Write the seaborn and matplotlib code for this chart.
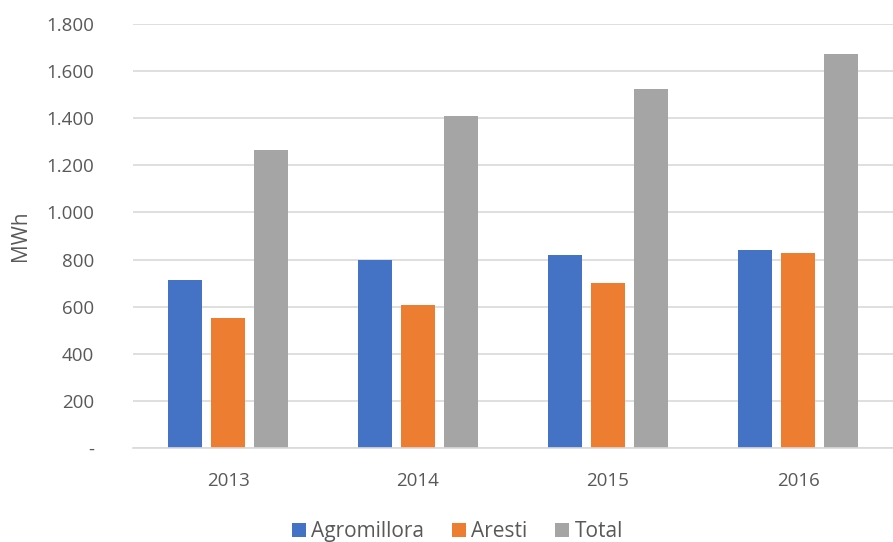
import matplotlib
matplotlib.use("Agg")
import matplotlib.pyplot as plt
import seaborn as sns
import pandas as pd
from matplotlib.ticker import FuncFormatter, MultipleLocator
from matplotlib.patches import Patch

years = ["2013", "2014", "2015", "2016"]
agromillora = [712, 799, 821, 841]
aresti = [552, 608, 702, 827]
total = [1266, 1408, 1525, 1670]
series = ["Agromillora", "Aresti", "Total"]
colors = ["#4472C4", "#ED7D31", "#A5A5A5"]

df = pd.DataFrame({
    "year": years * 3,
    "value": agromillora + aresti + total,
    "series": [series[0]] * 4 + [series[1]] * 4 + [series[2]] * 4,
})

sns.set_theme(style="white")
plt.rcParams["font.family"] = ["Open Sans", "DejaVu Sans"]

fig = plt.figure(figsize=(8.93, 5.42), dpi=100)
ax = fig.add_axes([0.149, 0.173, 0.851, 0.783])

sns.barplot(data=df, x="year", y="value", hue="series", order=years,
            hue_order=series, palette=colors, width=0.68, gap=0.2,
            saturation=1, ax=ax, legend=False, linewidth=0)

ax.set_ylim(0, 1800)
ax.set_xlim(-0.5, 3.5)
ax.yaxis.set_major_locator(MultipleLocator(200))

def fmt(v, pos):
    if v == 0:
        return "-"
    return f"{int(v):,}".replace(",", ".")

ax.yaxis.set_major_formatter(FuncFormatter(fmt))
ax.grid(axis="y", color="#d9d9d9", linewidth=1.2)
ax.set_axisbelow(True)
for s in ["top", "right", "left"]:
    ax.spines[s].set_visible(False)
ax.spines["bottom"].set_color("#d9d9d9")
ax.spines["bottom"].set_linewidth(1.2)
ax.tick_params(axis="both", length=0, labelsize=13.5, labelcolor="#595959")
ax.tick_params(axis="y", pad=28)
ax.tick_params(axis="x", pad=17)
ax.set_xlabel("")
ax.set_ylabel("MWh", fontsize=15, color="#595959", labelpad=11)

handles = [Patch(facecolor=c, edgecolor="none") for c in colors]
fig.legend(handles, series, loc="lower center", bbox_to_anchor=(0.512, -0.035),
           ncol=3, frameon=False, fontsize=15, labelcolor="#595959",
           handlelength=0.7, handleheight=0.7, handletextpad=0.25,
           columnspacing=1.3)

fig.savefig("out.png", dpi=100)
